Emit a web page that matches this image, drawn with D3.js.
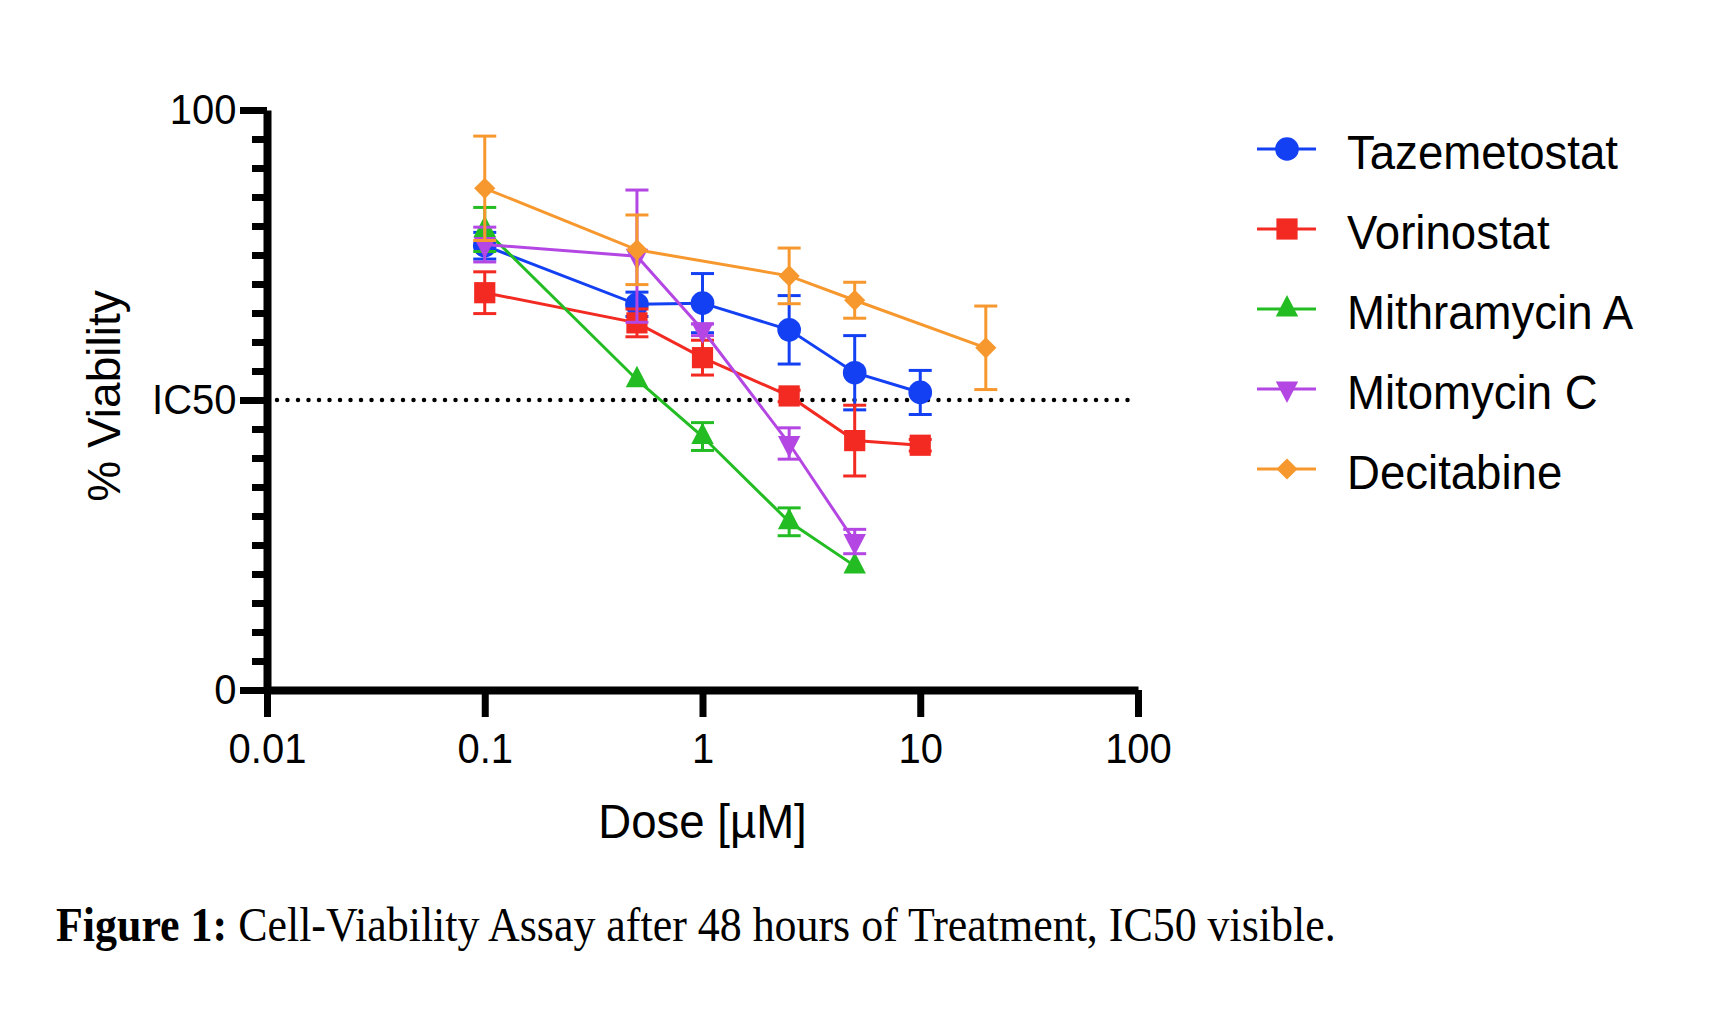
<!DOCTYPE html>
<html>
<head>
<meta charset="utf-8">
<script src="https://cdn.jsdelivr.net/npm/d3@7"></script>
<style>
  body { margin: 0; background: #fff; }
  text { font-family: "Liberation Sans", Arial, Helvetica, sans-serif; fill: #000; }
</style>
</head>
<body>
<script>
// ---- data ----
const seriesNames = ["Tazemetostat", "Vorinostat", "Mithramycin A", "Mitomycin C", "Decitabine"];
const seriesColors = ["#1340f3", "#f32a22", "#23bd23", "#b447e3", "#f7982e"];

const tazDose = [0.1, 0.5, 1, 2.5, 5, 10];
const tazMean = [76.6, 66.5, 66.7, 62.1, 54.7, 51.3];
const tazErr  = [2.3, 2.1, 5.1, 5.9, 6.4, 3.8];

const vorDose = [0.1, 0.5, 1, 2.5, 5, 10];
const vorMean = [68.5, 63.3, 57.3, 50.7, 43.0, 42.2];
const vorErr  = [3.6, 2.4, 3.0, 1.0, 6.1, 1.0];

const mitDose = [0.1, 0.5, 1, 2.5, 5];
const mitMean = [79.4, 53.5, 43.7, 29.0, 21.4];
const mitErr  = [3.8, 0, 2.4, 2.4, 0];

const mmcDose = [0.1, 0.5, 1, 2.5, 5];
const mmcMean = [76.8, 74.8, 62.1, 42.5, 25.6];
const mmcErr  = [3.0, 11.4, 1.0, 2.7, 2.1];

const decDose = [0.1, 0.5, 2.5, 5, 20];
const decMean = [86.5, 75.9, 71.4, 67.2, 59.0];
const decErr  = [9.0, 6.0, 4.8, 3.1, 7.2];

const xTicks = [0.01, 0.1, 1, 10, 100];
const xTickLabels = ["0.01", "0.1", "1", "10", "100"];
const yMajor = [0, 50, 100];
const yMajorLabels = ["0", "IC50", "100"];
const icLevel = 50;

// table the drawing code uses
const series = [
  {dose: tazDose, mean: tazMean, err: tazErr, shape: "circle"},
  {dose: vorDose, mean: vorMean, err: vorErr, shape: "square"},
  {dose: mitDose, mean: mitMean, err: mitErr, shape: "triUp"},
  {dose: mmcDose, mean: mmcMean, err: mmcErr, shape: "triDown"},
  {dose: decDose, mean: decMean, err: decErr, shape: "diamond"}
].map((s, i) => ({...s, name: seriesNames[i], color: seriesColors[i],
  points: s.dose.map((d, j) => ({x: d, y: s.mean[j], e: s.err[j]}))}));

// ---- layout ----
const W = 1710, H = 1010;
const squeeze = 0.93;   // the reference text is a little narrow

const svg = d3.select("body").append("svg")
    .attr("width", W)
    .attr("height", H);

const x = d3.scaleLog().domain([0.01, 100]).range([267, 1138]);
const y = d3.scaleLinear().domain([0, 100]).range([690, 110]);

// taller-than-wide triangle like the Prism one
const tallTriangle = {
  draw(ctx) {
    ctx.moveTo(0, -14);
    ctx.lineTo(11.2, 7.5);
    ctx.lineTo(-11.2, 7.5);
    ctx.closePath();
  }
};

function symbolPath(shape) {
  switch (shape) {
    case "circle":  return d3.symbol(d3.symbolCircle, 440)();
    case "square":  return d3.symbol(d3.symbolSquare, 450)();
    case "triUp":   return d3.symbol(tallTriangle)();
    case "triDown": return d3.symbol(tallTriangle)();
    case "diamond": return d3.symbol(d3.symbolSquare, 225)();
  }
}
function symbolRot(shape) {
  if (shape === "triDown") return 180;
  if (shape === "diamond") return 45;
  return 0;
}

// IC50 dotted line
svg.append("line")
    .attr("x1", 277).attr("x2", x(100))
    .attr("y1", y(icLevel)).attr("y2", y(icLevel))
    .attr("stroke", "#000")
    .attr("stroke-width", 4.5)
    .attr("stroke-linecap", "round")
    .attr("stroke-dasharray", "0 10.5");

// ---- series ----
const line = d3.line().x(d => x(d.x)).y(d => y(d.y));
const capW = 11.5;

series.forEach(s => {
  const g = svg.append("g");

  // error bars (skip points where none was drawn)
  const eb = g.selectAll(".eb").data(s.points.filter(d => d.e > 0)).enter().append("g")
      .attr("stroke", s.color)
      .attr("stroke-width", 3);
  eb.append("line")
      .attr("x1", d => x(d.x)).attr("x2", d => x(d.x))
      .attr("y1", d => y(d.y + d.e)).attr("y2", d => y(d.y - d.e));
  eb.append("line")
      .attr("x1", d => x(d.x) - capW).attr("x2", d => x(d.x) + capW)
      .attr("y1", d => y(d.y + d.e)).attr("y2", d => y(d.y + d.e));
  eb.append("line")
      .attr("x1", d => x(d.x) - capW).attr("x2", d => x(d.x) + capW)
      .attr("y1", d => y(d.y - d.e)).attr("y2", d => y(d.y - d.e));

  g.append("path")
      .datum(s.points)
      .attr("fill", "none")
      .attr("stroke", s.color)
      .attr("stroke-width", 3)
      .attr("d", line);

  g.selectAll(".pt").data(s.points).enter().append("path")
      .attr("fill", s.color)
      .attr("d", symbolPath(s.shape))
      .attr("transform", d => `translate(${x(d.x)},${y(d.y)}) rotate(${symbolRot(s.shape)})`);
});

// ---- axes ----
const yMinor = d3.range(5, 100, 5).filter(v => v !== 50);

svg.append("g")
    .attr("transform", "translate(267,0)")
    .call(d3.axisLeft(y).tickValues(yMinor).tickSize(15).tickFormat(""))
    .call(g => g.select(".domain").remove())
    .call(g => g.selectAll(".tick line").attr("stroke-width", 7));

const yPad = 3.5;
const yAxis = svg.append("g")
    .attr("transform", "translate(267,0)")
    .call(d3.axisLeft(y).tickValues(yMajor).tickSize(27).tickSizeOuter(0).tickPadding(yPad)
      .tickFormat((d, i) => yMajorLabels[i]));
yAxis.select(".domain").attr("stroke-width", 8);
yAxis.selectAll(".tick line").attr("stroke-width", 7);
yAxis.selectAll(".tick text")
    .attr("font-size", 43)
    .attr("font-family", "'Liberation Sans', Arial, sans-serif")
    .attr("x", -(27 + yPad) / squeeze)
    .attr("transform", `scale(${squeeze},1)`);

const xAxis = svg.append("g")
    .attr("transform", "translate(0,690)")
    .call(d3.axisBottom(x).tickValues(xTicks).tickSize(27).tickSizeOuter(0).tickPadding(15)
      .tickFormat((d, i) => xTickLabels[i]));
xAxis.select(".domain").attr("stroke-width", 8);
xAxis.selectAll(".tick line").attr("stroke-width", 7);
xAxis.selectAll(".tick text")
    .attr("font-size", 43)
    .attr("font-family", "'Liberation Sans', Arial, sans-serif")
    .attr("transform", `scale(${squeeze},1)`);

// axis titles
svg.append("text")
    .attr("transform", `translate(${x(1)},838) scale(${squeeze},1)`)
    .attr("text-anchor", "middle")
    .attr("font-size", 49)
    .text("Dose [µM]");

svg.append("text")
    .attr("transform", "translate(120,396) rotate(-90)")
    .attr("text-anchor", "middle")
    .attr("font-size", 46)
    .text("% Viability");

// ---- legend ----
const legend = svg.append("g")
    .selectAll("g")
    .data(series)
    .enter().append("g")
    .attr("transform", (d, i) => `translate(1257,${149 + i * 80})`);

legend.append("line")
    .attr("x1", 0).attr("x2", 59)
    .attr("stroke", d => d.color)
    .attr("stroke-width", 3);
legend.append("path")
    .attr("fill", d => d.color)
    .attr("d", d => symbolPath(d.shape))
    .attr("transform", d => `translate(30,0) rotate(${symbolRot(d.shape)})`);
legend.append("text")
    .attr("transform", `translate(90,20) scale(${squeeze},1)`)
    .attr("font-size", 49)
    .text(d => d.name);

// ---- caption ----
const capSqueeze = 0.915;
const cap = svg.append("text")
    .attr("transform", `translate(56,941) scale(${capSqueeze},1)`)
    .attr("font-size", 48)
    .style("font-family", "'Liberation Serif', 'Times New Roman', serif");
cap.append("tspan").attr("font-weight", "bold").text("Figure 1:");
cap.append("tspan").text(" Cell-Viability Assay after 48 hours of Treatment, IC50 visible.");
</script>
</body>
</html>
